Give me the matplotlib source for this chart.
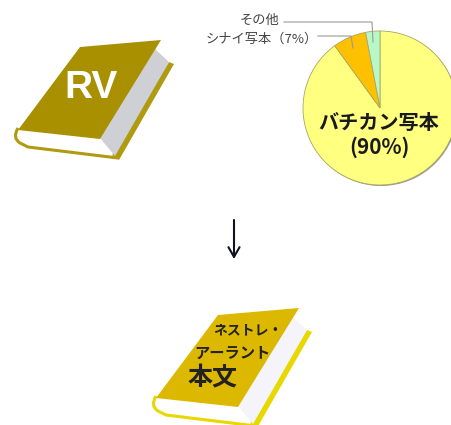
# -*- coding: utf-8 -*-
from matplotlib import pyplot as plt
from matplotlib.patches import Polygon, PathPatch, Circle
from matplotlib.path import Path

plt.rcParams['font.family'] = ['Noto Sans CJK JP', 'DejaVu Sans']

# 写本の割合
shares = [90, 7, 3]
share_colors = ['#FFFF80', '#FFC000', '#B8F8C8']
main_label = 'バチカン写本'
main_value = '(90%)'
sinai_label = 'シナイ写本（7%）'
other_label = 'その他'


def draw_book(ax, dx, dy, cover, back, edge):
    def shift(pts):
        return [(x + dx, y + dy) for x, y in pts]

    # 裏表紙
    ax.add_patch(Polygon(shift([(169, 62), (174, 64), (119, 160), (112, 155)]),
                         closed=True, fc=back, ec='none', zorder=2))
    spine = Path(shift([(18, 128), (12, 138), (20, 143), (28, 147), (118, 158)]),
                 [Path.MOVETO, Path.CURVE3, Path.CURVE3, Path.LINETO, Path.LINETO])
    # ページ
    ax.add_patch(Polygon(shift([(18, 130), (100, 139), (113, 155), (29, 146), (19, 140)]),
                         closed=True, fc='white', ec='none', zorder=2))
    ax.add_patch(Polygon(shift([(155, 49), (169, 62), (115, 156), (100, 138)]),
                         closed=True, fc=edge, ec='none', zorder=2))
    ax.add_patch(PathPatch(spine, fc='none', ec=back, lw=2.2, zorder=3))
    # 表紙
    ax.add_patch(Polygon(shift([(80, 47), (161, 40), (100, 139), (18, 130)]),
                         closed=True, fc=cover, ec='none', zorder=4))


fig = plt.figure(figsize=(4.51, 4.25), dpi=100)
ax = fig.add_axes([0, 0, 1, 1])

# 円グラフ（y軸を反転しているので -90 度から始めると上から時計回り）
ax.add_patch(Circle((381, 109), 77, fc='#999999', ec='none', zorder=1))
ax.pie(shares, colors=share_colors, center=(380, 108), radius=77,
       startangle=-90, counterclock=True, frame=True,
       wedgeprops={'edgecolor': '#A8A860', 'linewidth': 0.6, 'zorder': 2})

ax.set_xlim(0, 451)
ax.set_ylim(425, 0)
ax.set_aspect('equal')
ax.axis('off')

ax.text(379, 122, main_label, ha='center', va='center', fontsize=14.5,
        fontweight='bold', color='#1a1a1a', zorder=6)
ax.text(379, 147, main_value, ha='center', va='center', fontsize=15,
        fontweight='bold', color='#1a1a1a', zorder=6)

# 引き出し線
ax.plot([284, 372, 373], [22, 22, 42], color='#999999', lw=0.8, zorder=5)
ax.plot([318, 351, 353], [36, 36, 48], color='#999999', lw=0.8, zorder=5)
ax.text(279, 20, other_label, ha='right', va='center', fontsize=9.5, color='#444444')
ax.text(318, 39, sinai_label, ha='right', va='center', fontsize=9.5, color='#444444')

# 本
draw_book(ax, 0, 0, '#A89000', '#B09A10', '#CFCFD6')
ax.text(91, 88, 'RV', ha='center', va='center', fontsize=28, fontweight='bold',
        family='Liberation Sans', color='white', zorder=6)

draw_book(ax, 138, 268, '#DDB800', '#E8D800', '#F4F4FA')
ax.text(248, 330, 'ネストレ・', ha='center', va='center', fontsize=10,
        fontweight='bold', color='#222222', zorder=6)
ax.text(232, 353, 'アーラント', ha='center', va='center', fontsize=11,
        fontweight='bold', color='#222222', zorder=6)
ax.text(212, 378, '本文', ha='center', va='center', fontsize=18,
        fontweight='bold', color='#222222', zorder=6)

# 矢印
ax.annotate('', xy=(234, 259), xytext=(234, 220),
            arrowprops=dict(arrowstyle='->,head_length=0.7,head_width=0.4',
                            color='#111122', lw=1.5, shrinkA=0, shrinkB=0))

fig.savefig('out.png', dpi=100)
